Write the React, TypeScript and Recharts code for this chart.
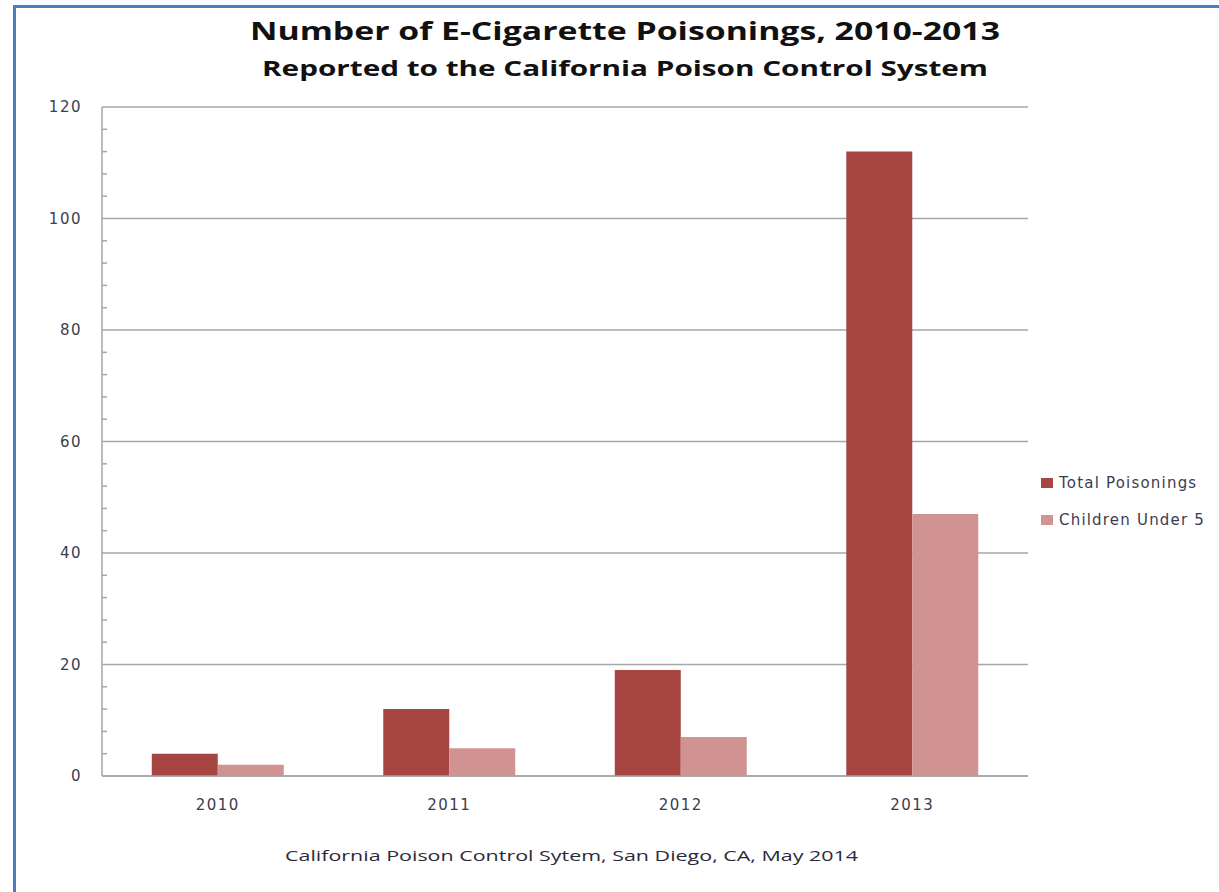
import { BarChart, Bar, XAxis, YAxis, CartesianGrid, Legend } from "recharts";

const years = ["2010", "2011", "2012", "2013"];
const totalPoisonings = [4, 12, 19, 112];
const childrenUnder5 = [2, 5, 7, 47];
const majorTicks = [0, 20, 40, 60, 80, 100, 120];
const minorTicks = [4, 8, 12, 16, 24, 28, 32, 36, 44, 48, 52, 56, 64, 68, 72, 76, 84, 88, 92, 96, 104, 108, 112, 116];
const allTicks = [...majorTicks, ...minorTicks].sort((a, b) => a - b);

const data = years.map((year, i) => ({
  year,
  total: totalPoisonings[i],
  children: childrenUnder5[i],
}));

const TOTAL_COLOR = "#a64542";
const CHILD_COLOR = "#d09391";
const TEXT_COLOR = "#3c3c50";
const GRID_COLOR = "#a6a6a6";
const Y_TICK_MARGIN = 20;

// labels on the major ticks, a short inward mark on the minor ones
const YTick = (props: any) => {
  const { x, y, payload } = props;
  if (majorTicks.includes(payload.value)) {
    return (
      <text
        x={x}
        y={y}
        dy="0.35em"
        textAnchor="end"
        fill={TEXT_COLOR}
        fontFamily="DejaVu Sans"
        fontSize={15}
        letterSpacing={1.5}
      >
        {payload.value}
      </text>
    );
  }
  const ax = x + Y_TICK_MARGIN;
  return <line x1={ax} x2={ax + 5} y1={y} y2={y} stroke={GRID_COLOR} strokeWidth={1.5} />;
};

const LegendBox = () => (
  <div style={{ fontFamily: "DejaVu Sans", fontSize: 15, letterSpacing: 1.2, color: TEXT_COLOR }}>
    {[
      { label: "Total Poisonings", color: TOTAL_COLOR },
      { label: "Children Under 5", color: CHILD_COLOR },
    ].map((item) => (
      <div key={item.label} style={{ display: "flex", alignItems: "center", height: 37 }}>
        <span style={{ width: 12, height: 10, background: item.color, marginRight: 6 }} />
        {item.label}
      </div>
    ))}
  </div>
);

export default function App() {
  return (
    <div style={{ position: "relative", width: 1219, height: 892, background: "#fff", overflow: "hidden" }}>
      <style>{`body{margin:0}`}</style>
      <div
        style={{
          position: "absolute",
          left: 13,
          top: 5,
          right: -10,
          bottom: -10,
          borderTop: "3px solid #4a7ebb",
          borderLeft: "3px solid #4a7ebb",
        }}
      />
      <BarChart
        width={1219}
        height={892}
        data={data}
        margin={{ top: 107, right: 191, bottom: 86, left: 0 }}
        barCategoryGap="21.5%"
        barGap={0}
        style={{ position: "absolute", left: 0, top: 0 }}
      >
        <CartesianGrid
          vertical={false}
          horizontalValues={majorTicks}
          stroke={GRID_COLOR}
          strokeWidth={1.5}
        />
        <YAxis
          width={102}
          domain={[0, 120]}
          ticks={allTicks}
          interval={0}
          tickLine={false}
          tickSize={0}
          tickMargin={Y_TICK_MARGIN}
          axisLine={{ stroke: GRID_COLOR, strokeWidth: 1.5 }}
          tick={<YTick />}
        />
        <XAxis
          dataKey="year"
          height={30}
          tickLine={false}
          tickMargin={17}
          axisLine={{ stroke: GRID_COLOR, strokeWidth: 1.5 }}
          tick={{ fill: TEXT_COLOR, fontFamily: "DejaVu Sans", fontSize: 15, letterSpacing: 1.5 }}
        />
        <Legend
          layout="vertical"
          verticalAlign="middle"
          align="center"
          content={<LegendBox />}
          wrapperStyle={{ left: 1041, top: 464, width: 178 }}
        />
        <Bar dataKey="total" name="Total Poisonings" fill={TOTAL_COLOR} isAnimationActive={false} />
        <Bar dataKey="children" name="Children Under 5" fill={CHILD_COLOR} isAnimationActive={false} />
      </BarChart>
      <svg
        width={1219}
        height={892}
        style={{ position: "absolute", left: 0, top: 0, pointerEvents: "none" }}
      >
        <text
          x={250}
          y={40}
          textLength={750}
          lengthAdjust="spacingAndGlyphs"
          fontFamily="Open Sans"
          fontWeight={700}
          fontSize={25}
          fill="#111"
        >
          Number of E-Cigarette Poisonings, 2010-2013
        </text>
        <text
          x={262}
          y={76}
          textLength={726}
          lengthAdjust="spacingAndGlyphs"
          fontFamily="Open Sans"
          fontWeight={700}
          fontSize={21}
          fill="#111"
        >
          Reported to the California Poison Control System
        </text>
        <text
          x={285}
          y={861}
          textLength={573}
          lengthAdjust="spacingAndGlyphs"
          fontFamily="Open Sans"
          fontSize={15}
          fill="#2a2a3a"
        >
          California Poison Control Sytem, San Diego, CA, May 2014
        </text>
      </svg>
    </div>
  );
}
